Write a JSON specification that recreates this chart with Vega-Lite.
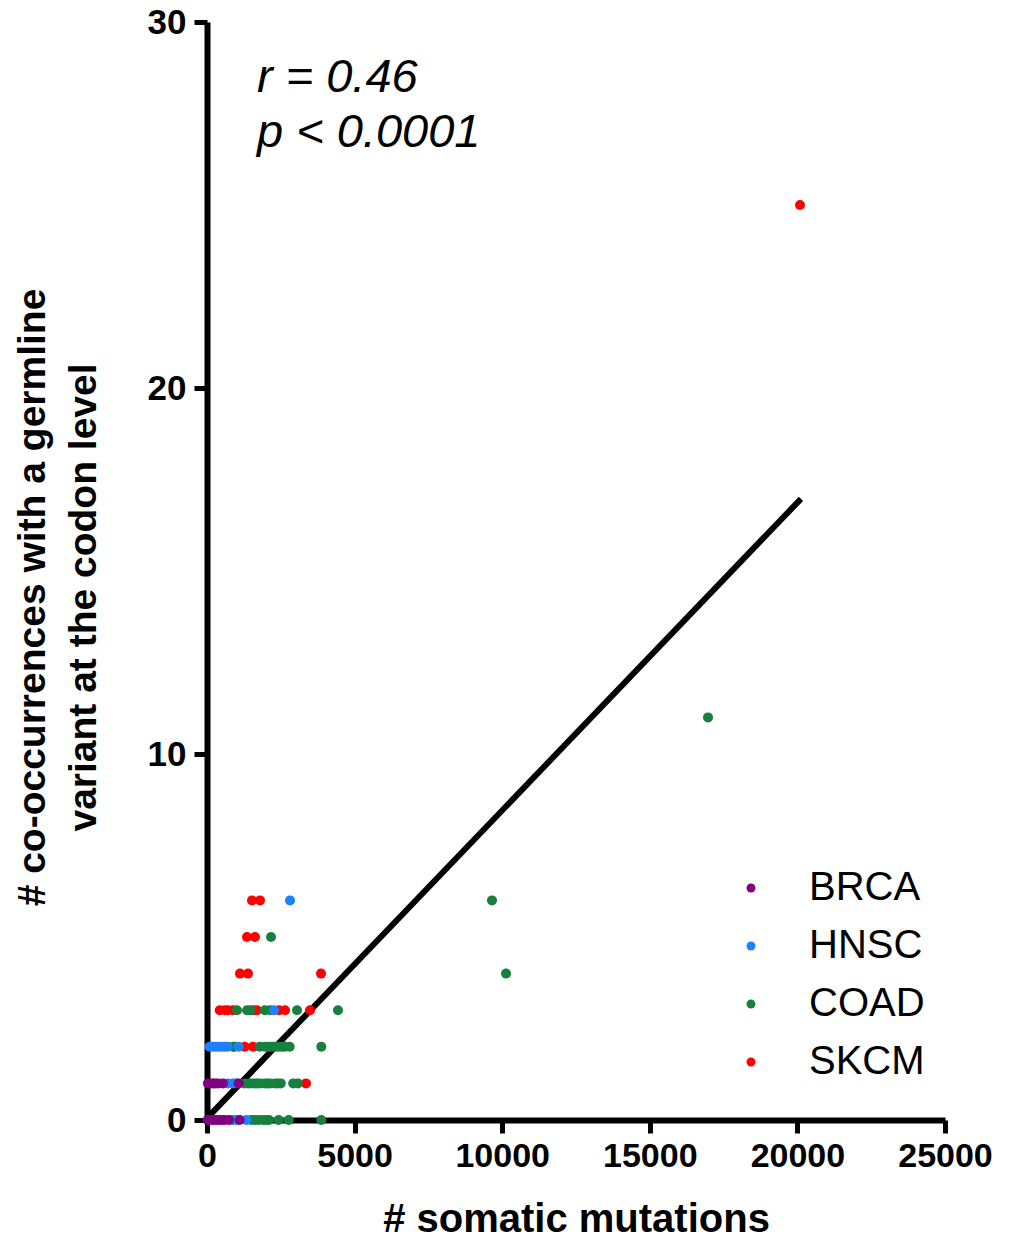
{
  "$schema": "https://vega.github.io/schema/vega-lite/v6.json",
  "autosize": "none",
  "width": 738,
  "height": 1098,
  "padding": {"left": 207, "top": 22, "right": 67, "bottom": 119},
  "background": "white",
  "config": {
    "view": {"stroke": null},
    "axis": {
      "domainColor": "black", "domainWidth": 6, "tickColor": "black", "tickWidth": 5, "tickSize": 13,
      "labelFont": "Liberation Sans", "labelFontWeight": "bold", "labelColor": "black", "labelFlush": false,
      "titleFont": "Liberation Sans", "titleFontWeight": "bold", "titleColor": "black", "titleFontSize": 40,
      "grid": false
    }
  },
  "layer": [
    {
      "data": {"values": [{"x": 0, "y": 0.05}, {"x": 20120, "y": 16.97}]},
      "mark": {"type": "line", "color": "black", "strokeWidth": 6},
      "encoding": {
        "x": {"field": "x", "type": "quantitative"},
        "y": {"field": "y", "type": "quantitative"}
      }
    },
    {
      "data": {"values": [
        {"x": 3354, "y": 1, "type": "SKCM"},
        {"x": 930, "y": 2, "type": "SKCM"}, {"x": 1276, "y": 2, "type": "SKCM"}, {"x": 1558, "y": 2, "type": "SKCM"},
        {"x": 430, "y": 3, "type": "SKCM"}, {"x": 600, "y": 3, "type": "SKCM"}, {"x": 711, "y": 3, "type": "SKCM"}, {"x": 880, "y": 3, "type": "SKCM"}, {"x": 1580, "y": 3, "type": "SKCM"}, {"x": 1694, "y": 3, "type": "SKCM"}, {"x": 2439, "y": 3, "type": "SKCM"}, {"x": 2642, "y": 3, "type": "SKCM"}, {"x": 3489, "y": 3, "type": "SKCM"},
        {"x": 1118, "y": 4, "type": "SKCM"}, {"x": 1389, "y": 4, "type": "SKCM"}, {"x": 3862, "y": 4, "type": "SKCM"},
        {"x": 1355, "y": 5, "type": "SKCM"}, {"x": 1626, "y": 5, "type": "SKCM"},
        {"x": 1524, "y": 6, "type": "SKCM"}, {"x": 1795, "y": 6, "type": "SKCM"},
        {"x": 20088, "y": 25, "type": "SKCM"},
        {"x": 1500, "y": 0, "type": "COAD"}, {"x": 1620, "y": 0, "type": "COAD"}, {"x": 1750, "y": 0, "type": "COAD"}, {"x": 1900, "y": 0, "type": "COAD"}, {"x": 2000, "y": 0, "type": "COAD"}, {"x": 2100, "y": 0, "type": "COAD"}, {"x": 2428, "y": 0, "type": "COAD"}, {"x": 2767, "y": 0, "type": "COAD"}, {"x": 3872, "y": 0, "type": "COAD"},
        {"x": 1000, "y": 1, "type": "COAD"}, {"x": 1276, "y": 1, "type": "COAD"}, {"x": 1400, "y": 1, "type": "COAD"}, {"x": 1500, "y": 1, "type": "COAD"}, {"x": 1620, "y": 1, "type": "COAD"}, {"x": 1700, "y": 1, "type": "COAD"}, {"x": 1800, "y": 1, "type": "COAD"}, {"x": 1960, "y": 1, "type": "COAD"}, {"x": 2050, "y": 1, "type": "COAD"}, {"x": 2130, "y": 1, "type": "COAD"}, {"x": 2300, "y": 1, "type": "COAD"}, {"x": 2400, "y": 1, "type": "COAD"}, {"x": 2500, "y": 1, "type": "COAD"}, {"x": 2920, "y": 1, "type": "COAD"}, {"x": 3080, "y": 1, "type": "COAD"},
        {"x": 880, "y": 2, "type": "COAD"}, {"x": 1784, "y": 2, "type": "COAD"}, {"x": 1950, "y": 2, "type": "COAD"}, {"x": 2050, "y": 2, "type": "COAD"}, {"x": 2150, "y": 2, "type": "COAD"}, {"x": 2250, "y": 2, "type": "COAD"}, {"x": 2350, "y": 2, "type": "COAD"}, {"x": 2450, "y": 2, "type": "COAD"}, {"x": 2550, "y": 2, "type": "COAD"}, {"x": 2650, "y": 2, "type": "COAD"}, {"x": 2800, "y": 2, "type": "COAD"}, {"x": 3872, "y": 2, "type": "COAD"},
        {"x": 1016, "y": 3, "type": "COAD"}, {"x": 1355, "y": 3, "type": "COAD"}, {"x": 1480, "y": 3, "type": "COAD"}, {"x": 1960, "y": 3, "type": "COAD"}, {"x": 2134, "y": 3, "type": "COAD"}, {"x": 3049, "y": 3, "type": "COAD"}, {"x": 4437, "y": 3, "type": "COAD"},
        {"x": 10129, "y": 4, "type": "COAD"}, {"x": 2168, "y": 5, "type": "COAD"}, {"x": 9654, "y": 6, "type": "COAD"}, {"x": 16972, "y": 11, "type": "COAD"},
        {"x": 880, "y": 0, "type": "HNSC"}, {"x": 1000, "y": 0, "type": "HNSC"}, {"x": 1332, "y": 0, "type": "HNSC"},
        {"x": 711, "y": 1, "type": "HNSC"}, {"x": 900, "y": 1, "type": "HNSC"},
        {"x": 90, "y": 2, "type": "HNSC"}, {"x": 200, "y": 2, "type": "HNSC"}, {"x": 300, "y": 2, "type": "HNSC"}, {"x": 400, "y": 2, "type": "HNSC"}, {"x": 500, "y": 2, "type": "HNSC"}, {"x": 600, "y": 2, "type": "HNSC"}, {"x": 700, "y": 2, "type": "HNSC"}, {"x": 1073, "y": 2, "type": "HNSC"},
        {"x": 2270, "y": 3, "type": "HNSC"}, {"x": 2812, "y": 6, "type": "HNSC"},
        {"x": 20, "y": 0, "type": "BRCA"}, {"x": 100, "y": 0, "type": "BRCA"}, {"x": 200, "y": 0, "type": "BRCA"}, {"x": 300, "y": 0, "type": "BRCA"}, {"x": 400, "y": 0, "type": "BRCA"}, {"x": 500, "y": 0, "type": "BRCA"}, {"x": 600, "y": 0, "type": "BRCA"}, {"x": 750, "y": 0, "type": "BRCA"}, {"x": 1107, "y": 0, "type": "BRCA"},
        {"x": 30, "y": 1, "type": "BRCA"}, {"x": 120, "y": 1, "type": "BRCA"}, {"x": 200, "y": 1, "type": "BRCA"}, {"x": 280, "y": 1, "type": "BRCA"}, {"x": 373, "y": 1, "type": "BRCA"}, {"x": 540, "y": 1, "type": "BRCA"}, {"x": 1073, "y": 1, "type": "BRCA"}
      ]},
      "mark": {"type": "point", "filled": true, "opacity": 1, "size": 100, "shape": "circle"},
      "encoding": {
        "x": {"field": "x", "type": "quantitative", "scale": {"domain": [0, 25000], "nice": false},
              "axis": {"values": [0, 5000, 10000, 15000, 20000, 25000], "format": "d", "labelFontSize": 34, "labelPadding": 6, "title": "# somatic mutations", "titlePadding": 26}},
        "y": {"field": "y", "type": "quantitative", "scale": {"domain": [0, 30], "nice": false},
              "axis": {"values": [0, 10, 20, 30], "labelFontSize": 35, "labelPadding": 8, "title": ["# co-occurrences with a germline", "variant at the codon level"], "titlePadding": 44, "titleLineHeight": 51, "titleY": 575, "titleFontSize": 39}},
        "color": {"field": "type", "type": "nominal",
                  "scale": {"domain": ["BRCA", "HNSC", "COAD", "SKCM"], "range": ["#800080", "#1E80FF", "#17803F", "#FF0000"]},
                  "legend": {"orient": "none", "legendX": 524, "legendY": 846, "title": null, "symbolType": "circle", "symbolSize": 80, "symbolStrokeWidth": 0, "labelFont": "Liberation Sans", "labelFontSize": 40, "labelColor": "black", "labelOffset": 38, "rowPadding": 18}}
      }
    },
    {
      "data": {"values": [{"x": 1694, "y": 28.09, "label": "r = 0.46"}, {"x": 1694, "y": 26.58, "label": "p < 0.0001"}]},
      "mark": {"type": "text", "align": "left", "baseline": "alphabetic", "font": "Liberation Sans", "fontStyle": "italic", "fontSize": 47, "color": "black"},
      "encoding": {
        "x": {"field": "x", "type": "quantitative"},
        "y": {"field": "y", "type": "quantitative"},
        "text": {"field": "label", "type": "nominal"}
      }
    }
  ]
}
